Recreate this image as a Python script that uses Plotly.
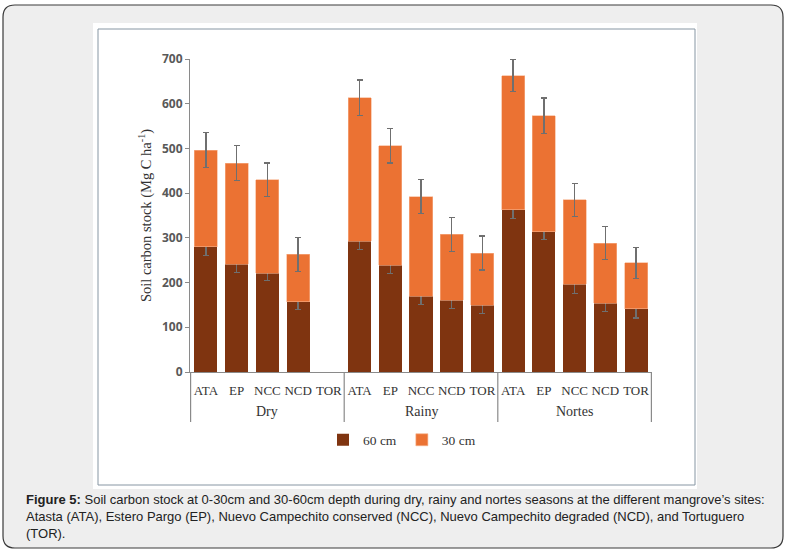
import plotly.graph_objects as go

# data (Mg C ha-1)
seasons = ["Dry", "Rainy", "Nortes"]
sites = ["ATA", "EP", "NCC", "NCD", "TOR"]

# 30-60 cm layer (bottom of the stack), Dry TOR not sampled
stock_60 = [280, 241, 221, 157, None,
            292, 239, 169, 161, 149,
            363, 314, 196, 154, 141]
err_60 = [19, 18, 17, 17, None,
          18, 19, 18, 19, 18,
          20, 18, 20, 19, 20]

# 0-30 cm layer (top of the stack)
stock_30 = [216, 226, 209, 106, None,
            321, 267, 223, 147, 117,
            300, 259, 189, 134, 103]
err_30 = [39, 39, 37, 38, None,
          40, 39, 38, 38, 38,
          36, 40, 37, 37, 35]

# one category per season/site pair, labelled with the site only
cats = [f"{s}|{site}" for s in seasons for site in sites]
tick_text = sites * len(seasons)

W, H = 788, 553
L, R, T, B = 190, 652, 59, 372  # plot area in pixels


def px(v):
    return (v - L) / (R - L)


def py(v):
    return (B - v) / (B - T)


serif = "Liberation Serif"
axis_grey = "#8a8a8a"
err_style = dict(type="data", color="#6f6f6f", thickness=1.4, width=3)

fig = go.Figure()
fig.add_trace(go.Bar(
    x=cats, y=stock_60, name="60 cm",
    marker=dict(color="#7f3410", line=dict(width=0)),
    error_y=dict(array=err_60, **err_style),
))
fig.add_trace(go.Bar(
    x=cats, y=stock_30, name="30 cm",
    marker=dict(color="#eb7233", line=dict(color="#f6b08a", width=0.6)),
    error_y=dict(array=err_30, **err_style),
))

# rounded grey card + white chart box
r = 12
x0, x1, y0, y1 = 3, 783, 5, 548
card = (f"M {px(x0 + r)},{py(y0)} L {px(x1 - r)},{py(y0)} "
        f"Q {px(x1)},{py(y0)} {px(x1)},{py(y0 + r)} "
        f"L {px(x1)},{py(y1 - r)} Q {px(x1)},{py(y1)} {px(x1 - r)},{py(y1)} "
        f"L {px(x0 + r)},{py(y1)} Q {px(x0)},{py(y1)} {px(x0)},{py(y1 - r)} "
        f"L {px(x0)},{py(y0 + r)} Q {px(x0)},{py(y0)} {px(x0 + r)},{py(y0)} Z")
shapes = [
    dict(type="path", path=card, xref="paper", yref="paper", layer="below",
         fillcolor="#eeeeee", line=dict(color="#3a3a3a", width=1.2)),
    dict(type="rect", xref="paper", yref="paper", layer="below",
         x0=px(93), x1=px(697), y0=py(489), y1=py(23),
         fillcolor="white", line=dict(width=0)),
    dict(type="rect", xref="paper", yref="paper", layer="below",
         x0=px(98), x1=px(695), y0=py(485), y1=py(29),
         fillcolor="rgba(0,0,0,0)", line=dict(color="#8796a3", width=1)),
]

# season dividers below the axis
n = len(sites)
for k in range(len(seasons) + 1):
    shapes.append(dict(
        type="line", xref="x", yref="paper", x0=k * n - 0.5, x1=k * n - 0.5,
        y0=0, y1=py(422), line=dict(color=axis_grey, width=1.2),
    ))

annotations = []
for k, s in enumerate(seasons):
    annotations.append(dict(
        text=s, xref="x", yref="paper", x=cats[k * n + 2], y=py(412),
        xanchor="center", yanchor="middle", showarrow=False,
        font=dict(family=serif, size=14, color="#333333"),
    ))

caption = [
    "<b>Figure 5:</b> Soil carbon stock at 0-30cm and 30-60cm depth during dry, rainy and nortes seasons at the different mangrove’s sites:",
    "Atasta (ATA), Estero Pargo (EP), Nuevo Campechito conserved (NCC), Nuevo Campechito degraded (NCD), and Tortuguero",
    "(TOR).",
]
for i, line in enumerate(caption):
    annotations.append(dict(
        text=line, xref="paper", yref="paper", x=px(24), y=py(499 + i * 17),
        xanchor="left", yanchor="middle", showarrow=False,
        font=dict(family="Liberation Sans", size=13, color="#222222"),
    ))

fig.update_layout(
    width=W, height=H,
    margin=dict(l=L, r=W - R, t=T, b=H - B, autoexpand=False),
    barmode="stack", bargap=0.25,
    paper_bgcolor="white", plot_bgcolor="rgba(0,0,0,0)",
    font=dict(family=serif, size=13, color="#333333"),
    showlegend=True,
    legend=dict(orientation="h", x=px(402), y=py(440), xanchor="center",
                yanchor="middle", traceorder="normal", itemwidth=30,
                font=dict(family=serif, size=13.5, color="#333333"),
                bgcolor="rgba(0,0,0,0)"),
    shapes=shapes, annotations=annotations,
)
fig.update_yaxes(
    range=[0, 700], dtick=100, showgrid=False, zeroline=False, automargin=False,
    showline=True, linecolor=axis_grey, linewidth=1.2,
    ticks="outside", ticklen=4, tickcolor=axis_grey,
    tickfont=dict(family="Open Sans", size=12, color="#595959", weight="bold"),
    title=dict(text="Soil carbon stock (Mg C ha<sup>-1</sup>)", standoff=6,
               font=dict(family=serif, size=14.5, color="#333333")),
)
fig.update_xaxes(
    type="category", showgrid=False, automargin=False, tickangle=0,
    tickmode="array", tickvals=cats, ticktext=tick_text,
    showline=True, linecolor=axis_grey, linewidth=1.2, ticks="",
    ticklabelstandoff=6,
    tickfont=dict(family=serif, size=13, color="#333333"),
)

fig.write_html("out.html", config={"displayModeBar": False},
               post_script="document.body.style.margin='0px';")
